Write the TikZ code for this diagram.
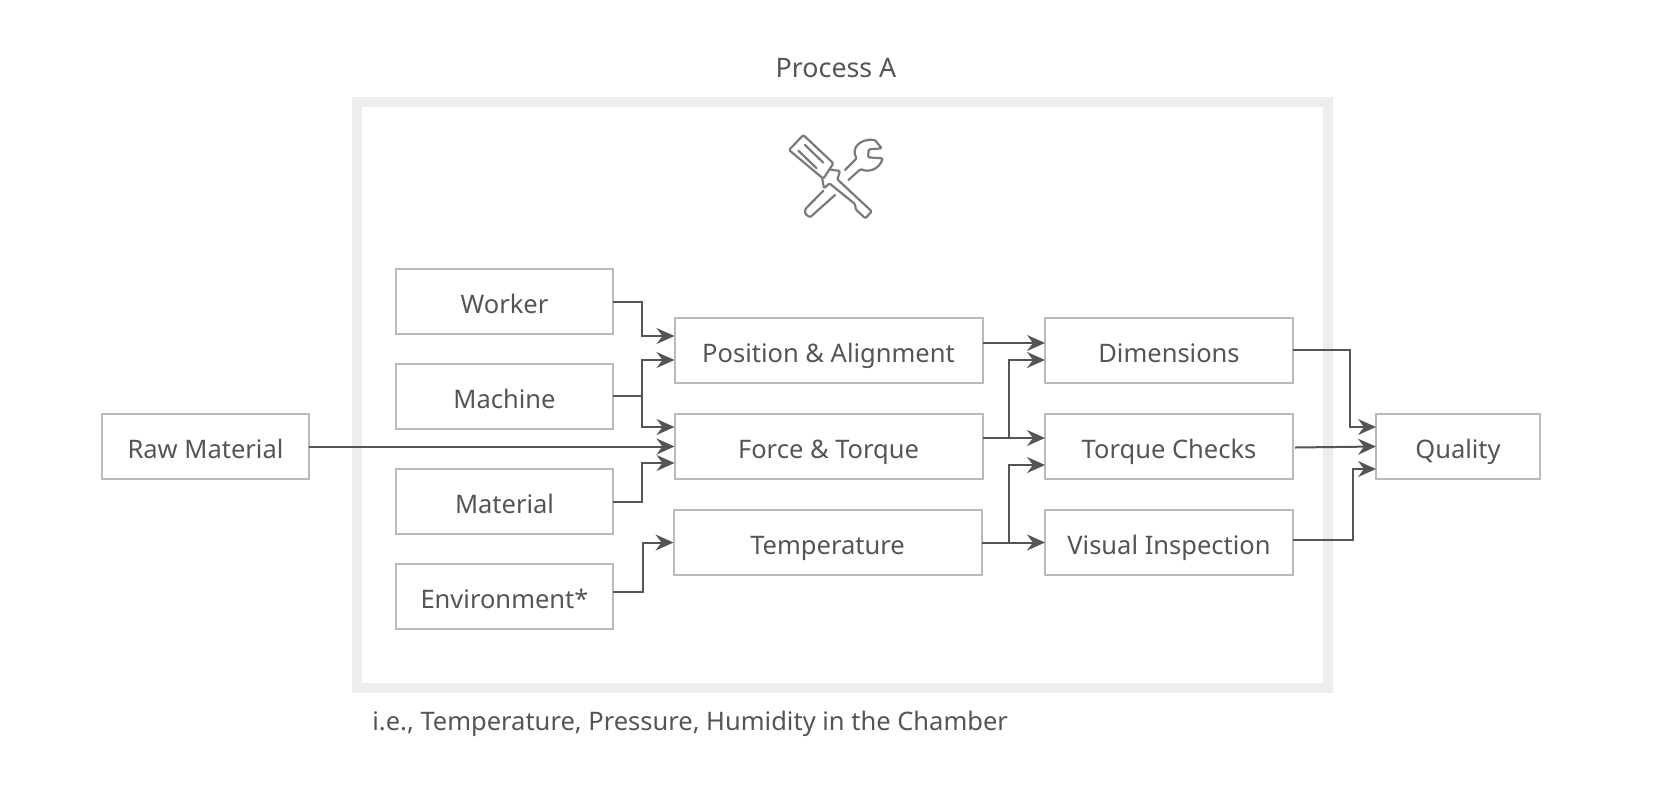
\documentclass[tikz,border=0pt]{standalone}
\usepackage{fontspec}
\setmainfont{Noto Sans}
\usetikzlibrary{arrows.meta}
\definecolor{cInk}{HTML}{555555}
\definecolor{cEdge}{HTML}{BABABA}
\definecolor{cFrame}{HTML}{EDEDED}
\definecolor{cIcon}{HTML}{7A7A7A}

\begin{document}
\begin{tikzpicture}[
    x=0.5pt, y=-0.5pt,
    font=\fontsize{12.75}{15}\selectfont,
    text=cInk,
    box/.style={draw=cEdge, line width=1pt, align=center, inner sep=0pt, outer sep=0pt, minimum height=32.5pt, fill=white, text height=13pt, text depth=0.8pt},
    inbox/.style={box, minimum width=108.5pt},
    midbox/.style={box, minimum width=154pt},
    outbox/.style={box, minimum width=124pt},
    arr/.style={-{Stealth[length=9pt, width=8pt, inset=3pt]}, line width=1pt, draw=cInk},
    lnk/.style={line width=1pt, draw=cInk},
    tool/.style={draw=cIcon, line width=1.1pt, line join=round, line cap=round, rounded corners=0.6pt}
]
\useasboundingbox (0,0) rectangle (1668,798);

\draw[cFrame, line width=5pt] (357,102) rectangle (1328,687.5);
\node[font=\fontsize{13.4}{15}\selectfont] (title) at (836,68) {Process A};
\node[anchor=west, inner sep=0pt] (note) at (372,724) {i.e., Temperature, Pressure, Humidity in the Chamber};

% tools icon
\begin{scope}[shift={(760,120)}, x=0.1667pt, y=-0.1667pt]
\draw[tool] (130,45) -- (220,130) -- (190,176) -- (87,90) -- cycle;
\draw[tool] (135,75) -- (190,128);
\draw[tool] (115,92) -- (170,145);
\draw[tool] (207,148) -- (240,153) -- (232,178) -- (335,274) -- (316,295) -- (287,268) -- (285,252) -- (208,190) -- (192,205) -- (187,178);
\draw[tool] (190,212) -- (135,268) -- (136,282) -- (150,292) -- (225,225);
\draw[tool] (255,150) -- (290,115) .. controls (272,85) and (300,55) .. (345,60) -- (365,85) -- (326,88) -- (324,112) -- (368,115) .. controls (358,148) and (325,158) .. (302,147) -- (265,180);
\end{scope}

% inputs
\node[box, minimum width=103.5pt] (raw) at (205.5,446.5) {Raw Material};
\node[inbox] (worker) at (504.5,301.5) {Worker};
\node[inbox] (machine) at (504.5,396) {Machine};
\node[inbox] (material) at (504.5,501.5) {Material};
\node[inbox] (envir) at (504.5,596.5) {Environment*};

% parameters
\node[midbox] (pos) at (828.5,350.5) {Position \& Alignment};
\node[midbox] (force) at (828.5,446) {Force \& Torque};
\node[midbox] (temp) at (827.5,542.5) {Temperature};

% checks
\node[outbox] (dim) at (1169,350.5) {Dimensions};
\node[outbox] (chk) at (1169,446.5) {Torque Checks};
\node[outbox] (vis) at (1169,542.5) {Visual Inspection};
\node[box, minimum width=82pt] (qual) at (1458,446.5) {Quality};

\draw[arr] (worker.east) -- ++(29,0) |- ([yshift=7.25pt]pos.west);
\draw[arr] (machine.east) -- ++(29,0) |- ([yshift=-4.75pt]pos.west);
\draw[arr] (machine.east) -- ++(29,0) |- ([yshift=9.5pt]force.west);
\draw[arr] (raw.east) -- (raw.east -| force.west);
\draw[arr] (material.east) -- ++(29,0) |- ([yshift=-8.5pt]force.west);
\draw[arr] ([yshift=2.25pt]envir.east) -- ++(30,0) |- (temp.west);

\draw[arr] ([yshift=3.75pt]pos.east) -- ([yshift=3.75pt]dim.west);
\draw[lnk] ([yshift=4pt]force.east) -- ++(26,0) coordinate (forcejoin);
\draw[arr] (forcejoin) |- ([yshift=-4.75pt]dim.west);
\draw[arr] (forcejoin) -- ([yshift=4.25pt]chk.west);
\draw[lnk] (temp.east) -- ++(27,0) coordinate (tempjoin);
\draw[arr] (tempjoin) |- ([yshift=-9.25pt]chk.west);
\draw[arr] (tempjoin) -- (vis.west);

\draw[arr] ([yshift=.25pt]dim.east) -- ++(57,0) |- ([yshift=9.75pt]qual.west);
\draw[arr] ([xshift=1pt,yshift=-.5pt]chk.east) -- ([yshift=0pt]qual.west);
\draw[arr] ([yshift=1.25pt]vis.east) -- ++(60,0) |- ([yshift=-11.25pt]qual.west);
\end{tikzpicture}
\end{document}
